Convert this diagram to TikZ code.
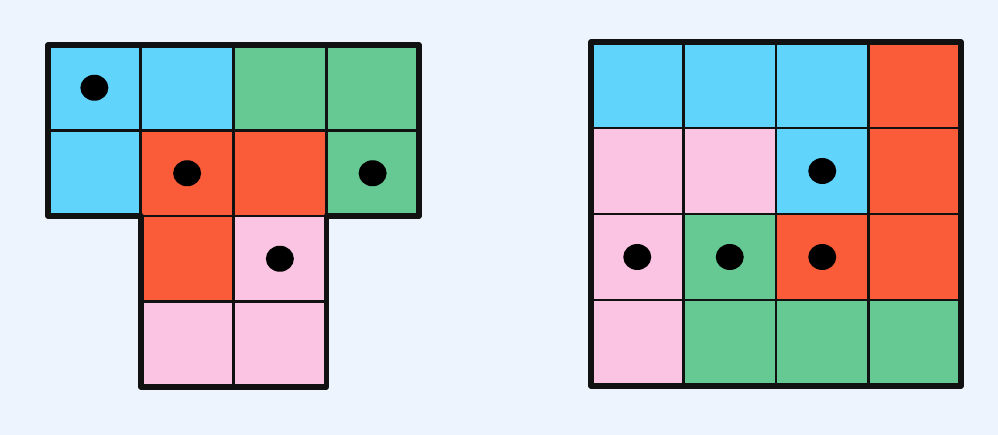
\documentclass[tikz,border=0pt]{standalone}
\usepackage{xcolor}
\usepackage{tikz}
\definecolor{fBack}{RGB}{238,244,253}
\definecolor{fBlue}{RGB}{96,212,250}
\definecolor{fGreen}{RGB}{102,200,146}
\definecolor{fRed}{RGB}{250,92,58}
\definecolor{fPink}{RGB}{250,196,226}
\definecolor{dInk}{RGB}{17,17,17}
\begin{document}
\begin{tikzpicture}[x=1pt,y=-1pt,
  rim/.style={draw=dInk,line width=5.5pt,line join=round},
  sep/.style={draw=dInk,line width=2.8pt},
  dot/.style={fill=black}]
\fill[fBack] (0,0) rectangle (998,435);
\useasboundingbox (0,0) rectangle (998,435);
% left piece
\begin{scope}[shift={(48,45)},x=92.75pt,y=-85.5pt]
 \foreach \c/\r/\k in {0/0/fBlue,1/0/fBlue,2/0/fGreen,3/0/fGreen,
                       0/1/fBlue,1/1/fRed,2/1/fRed,3/1/fGreen,
                       1/2/fRed,2/2/fPink,1/3/fPink,2/3/fPink}
  \fill[\k] (\c,\r) rectangle +(1,1);
 \draw[sep] (1,0) -- (1,2) (2,0) -- (2,4) (3,0) -- (3,2)
            (0,1) -- (4,1) (1,2) -- (3,2) (1,3) -- (3,3);
 \draw[rim] (0,0) -- (4,0) -- (4,2) -- (3,2) -- (3,4) -- (1,4) -- (1,2) -- (0,2) -- cycle;
 \foreach \c/\r in {0/0,1/1,3/1,2/2}
  \fill[dot] (\c+0.5,\r+0.5) ellipse [x radius=14pt,y radius=13pt];
\end{scope}
% right piece
\begin{scope}[shift={(591,42)},x=92.5pt,y=-86pt]
 \foreach \c/\r/\k in {0/0/fBlue,1/0/fBlue,2/0/fBlue,3/0/fRed,
                       0/1/fPink,1/1/fPink,2/1/fBlue,3/1/fRed,
                       0/2/fPink,1/2/fGreen,2/2/fRed,3/2/fRed,
                       0/3/fPink,1/3/fGreen,2/3/fGreen,3/3/fGreen}
  \fill[\k] (\c,\r) rectangle +(1,1);
 \foreach \i in {1,2,3} \draw[sep] (\i,0) -- (\i,4) (0,\i) -- (4,\i);
 \draw[rim] (0,0) rectangle (4,4);
 \foreach \c/\r in {2/1,0/2,1/2,2/2}
  \fill[dot] (\c+0.5,\r+0.5) ellipse [x radius=14pt,y radius=13pt];
\end{scope}
\end{tikzpicture}
\end{document}
